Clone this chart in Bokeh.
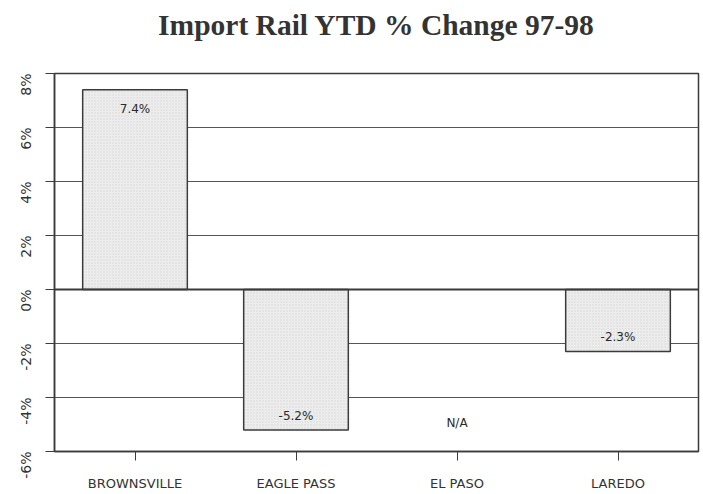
import math
from bokeh.plotting import figure
from bokeh.models import ColumnDataSource, FixedTicker, Span, Title
from bokeh.core.properties import value
from bokeh.embed import file_html
from bokeh.resources import INLINE

# ---- data ----
title_text = "Import Rail YTD % Change 97-98"
categories = ["BROWNSVILLE", "EAGLE PASS", "EL PASO", "LAREDO"]
pct_change = [7.4, -5.2, None, -2.3]
value_labels = ["7.4%", "-5.2%", "N/A", "-2.3%"]
label_y = [6.7, -4.7, -4.95, -1.75]
y_ticks = [-6, -4, -2, 0, 2, 4, 6, 8]
y_tick_labels = ["-6%", "-4%", "-2%", "0%", "2%", "4%", "6%", "8%"]

bar_cats = [c for c, v in zip(categories, pct_change) if v is not None]
bar_vals = [v for v in pct_change if v is not None]

LINE = "#3b3b3b"
FONT = "DejaVu Sans"

p = figure(
    x_range=categories, y_range=(-6, 8),
    width=702, height=493,
    output_backend="svg", toolbar_location=None,
    title_location=None,
    min_border_left=54, min_border_right=4,
    min_border_top=73, min_border_bottom=40,
    background_fill_color="white", border_fill_color="white",
)

# spacer (closest to the frame) then the main title above it
p.add_layout(Title(text=" ", text_font_size="10px", standoff=16), "above")
p.add_layout(Title(text=title_text, text_font="Liberation Serif",
                   text_font_size="29.5px", text_font_style="bold",
                   text_color="#333333", align="center", standoff=8), "above")

p.outline_line_color = LINE
p.outline_line_width = 1.5

# grid
p.xgrid.grid_line_color = None
p.ygrid.ticker = FixedTicker(ticks=y_ticks)
p.ygrid.grid_line_color = "#555555"
p.ygrid.grid_line_width = 1.2

p.add_layout(Span(location=0, dimension="width", line_color=LINE, line_width=2))

# bars
src = ColumnDataSource(dict(x=bar_cats, top=bar_vals))
p.vbar(x="x", top="top", bottom=0, width=0.65, source=src,
       fill_color="#ededed", line_color=LINE, line_width=1.5,
       hatch_pattern="dot", hatch_color="#c8c8c8", hatch_scale=3, hatch_alpha=0.6)

# value labels
lsrc = ColumnDataSource(dict(x=categories, y=label_y, t=value_labels))
p.text(x="x", y="y", text="t", source=lsrc, text_align="center",
       text_baseline="middle", text_font=value(FONT), text_font_size="12px",
       text_color="#2a2a2a")

# axes
p.yaxis.ticker = FixedTicker(ticks=y_ticks)
p.yaxis.major_label_overrides = {t: l for t, l in zip(y_ticks, y_tick_labels)}
p.yaxis.major_label_orientation = math.pi / 2
p.yaxis.major_label_text_font = FONT
p.yaxis.major_label_text_font_size = "14px"
p.yaxis.major_label_text_color = "#333333"
p.yaxis.major_label_standoff = 20
p.yaxis.major_tick_in = 0
p.yaxis.major_tick_out = 9
p.yaxis.minor_tick_line_color = None
p.yaxis.axis_line_color = LINE
p.yaxis.axis_line_width = 1.5
p.yaxis.major_tick_line_color = LINE
p.yaxis.major_tick_line_width = 1.2

p.xaxis.major_label_text_font = FONT
p.xaxis.major_label_text_font_size = "13px"
p.xaxis.major_label_text_color = "#333333"
p.xaxis.major_label_standoff = 15
p.xaxis.major_tick_in = 0
p.xaxis.major_tick_out = 9
p.xaxis.axis_line_color = LINE
p.xaxis.axis_line_width = 1.5
p.xaxis.major_tick_line_color = LINE

open("out.html", "w").write(file_html(p, INLINE))
